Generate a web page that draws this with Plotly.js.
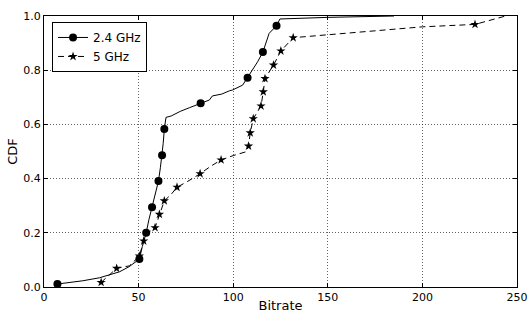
<!DOCTYPE html>
<html>
<head>
<meta charset="utf-8">
<script src="https://cdn.plot.ly/plotly-3.0.1.min.js"></script>
<style>html,body{margin:0;padding:0;background:#fff;}#chart{width:530px;height:313px;}</style>
</head>
<body>
<div id="chart"></div>
<script>
// 2.4 GHz CDF curve
const g24Name = '2.4 GHz';
const g24X = [7.1, 20.5, 29.3, 39.9, 45, 50.4, 52, 54, 55.5, 57.1, 59, 60.5, 61.5, 62.4, 63, 63.6, 64.5, 67.2, 72, 77, 82.8, 87.4, 89, 94, 98, 99.7, 105, 107.6, 110, 112.9, 115.7, 119, 122.9, 124.7, 150, 185];
const g24Y = [0.011, 0.023, 0.034, 0.056, 0.075, 0.103, 0.15, 0.20, 0.25, 0.294, 0.34, 0.391, 0.44, 0.486, 0.53, 0.583, 0.626, 0.631, 0.648, 0.662, 0.678, 0.69, 0.705, 0.712, 0.724, 0.727, 0.745, 0.772, 0.80, 0.831, 0.867, 0.936, 0.964, 0.989, 0.995, 1.0];
const g24Marks = [0, 5, 7, 9, 11, 13, 15, 20, 27, 30, 32];

// 5 GHz CDF curve
const g5Name = '5 GHz';
const g5X = [30.2, 38.4, 45.1, 50.4, 52.7, 55, 58.7, 61, 63.6, 67, 70.3, 76, 82.5, 88, 93.6, 100, 106.8, 108.1, 109, 110.6, 114.7, 115.9, 116.8, 121.3, 125.2, 131.7, 161.3, 200, 227.8, 244];
const g5Y = [0.017, 0.069, 0.078, 0.114, 0.17, 0.2, 0.219, 0.268, 0.318, 0.34, 0.368, 0.39, 0.418, 0.445, 0.469, 0.485, 0.499, 0.520, 0.569, 0.621, 0.668, 0.720, 0.769, 0.819, 0.871, 0.920, 0.938, 0.96, 0.969, 1.0];
const g5Marks = [0, 1, 3, 4, 6, 7, 8, 10, 12, 14, 17, 18, 19, 20, 21, 22, 23, 24, 25, 28];

const xTicks = [0, 50, 100, 150, 200, 250];
const yTicks = [0.0, 0.2, 0.4, 0.6, 0.8, 1.0];
const xLabel = 'Bitrate';
const yLabel = 'CDF';

const FONT = 'DejaVu Sans, sans-serif';

const traces = [
  {
    x: g24X, y: g24Y, name: g24Name, type: 'scatter', mode: 'lines+markers',
    line: {color: '#000', width: 1},
    marker: {symbol: 'circle', size: 8, color: '#000'},
    selectedpoints: g24Marks,
    selected: {marker: {opacity: 1}},
    unselected: {marker: {opacity: 0}}
  },
  {
    x: g5X, y: g5Y, name: g5Name, type: 'scatter', mode: 'lines+markers',
    line: {color: '#000', width: 1, dash: '6px,4px'},
    marker: {symbol: 'star', size: 7, color: '#000'},
    selectedpoints: g5Marks,
    selected: {marker: {opacity: 1}},
    unselected: {marker: {opacity: 0}}
  }
];

const axisCommon = {
  showline: true, linecolor: '#000', linewidth: 1, mirror: 'ticks',
  ticks: 'inside', ticklen: 4, tickcolor: '#000', tickwidth: 1,
  showgrid: true, gridcolor: '#000', gridwidth: 0.6, griddash: '1px,2px',
  zeroline: false,
  tickfont: {family: FONT, size: 11, color: '#000'}
};

const layout = {
  width: 530, height: 313,
  margin: {l: 44, r: 13, t: 16, b: 26},
  paper_bgcolor: '#fff', plot_bgcolor: '#fff',
  font: {family: FONT, color: '#000'},
  xaxis: Object.assign({}, axisCommon, {
    range: [0, 250], tickvals: xTicks, ticktext: xTicks.map(String),
    title: {text: xLabel, font: {family: FONT, size: 13, color: '#000'}, standoff: 13}
  }),
  yaxis: Object.assign({}, axisCommon, {
    range: [0, 1], tickvals: yTicks, ticktext: yTicks.map(v => v.toFixed(1)),
    title: {text: yLabel, font: {family: FONT, size: 13, color: '#000'}, standoff: 2}
  }),
  showlegend: true,
  legend: {
    x: 0.017, y: 0.978, xanchor: 'left', yanchor: 'top',
    bgcolor: '#fff', bordercolor: '#000', borderwidth: 1,
    font: {family: FONT, size: 12, color: '#000'},
    tracegroupgap: 0
  }
};

Plotly.newPlot('chart', traces, layout, {displayModeBar: false, staticPlot: true});
</script>
</body>
</html>
